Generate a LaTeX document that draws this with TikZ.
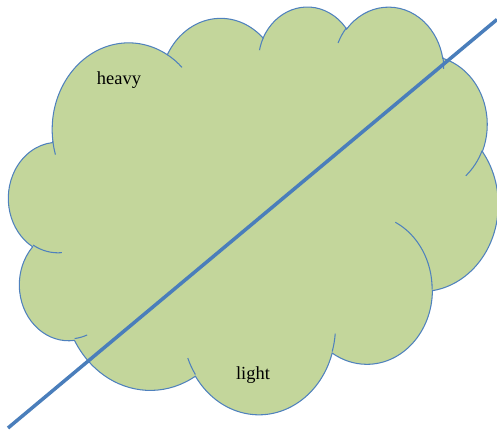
\documentclass[tikz,border=0pt]{standalone}
\usepackage{fontspec}
\setmainfont{Liberation Serif}
\definecolor{cloudfill}{HTML}{C3D69B}
\definecolor{cloudline}{HTML}{4F81BD}
\definecolor{splitline}{HTML}{4A7EBB}
\begin{document}
\begin{tikzpicture}[x=0.02cm,y=-0.02cm,font=\fontsize{10.5}{12}\selectfont]
  \tikzset{
    lobe/.style={draw=cloudline,line width=0.6pt,fill=cloudfill},
    crease/.style={draw=cloudline,line width=0.6pt},
    split/.style={draw=splitline,line width=2pt},
    lbl/.style={anchor=base,inner sep=0pt}
  }
  \useasboundingbox (0,0) rectangle (497,437);

  \begin{scope}[shift={(0.174cm,-0.113cm)},x=0.022654cm,y=-0.01888cm]
    \path[lobe] (39.00,143.70)
      arc[start angle=172.25,end angle=300.36,x radius=67.53,y radius=91.90]
      arc[start angle=-152.02,end angle=-45.43,x radius=53.33,y radius=72.67]
      arc[start angle=-153.48,end angle=-37.31,x radius=43.65,y radius=59.45]
      arc[start angle=-139.70,end angle=-10.21,x radius=48.57,y radius=65.95]
      arc[start angle=-74.77,end angle=23.21,x radius=53.33,y radius=72.73]
      arc[start angle=-37.53,end angle=81.86,x radius=67.75,y radius=92.20]
      arc[start angle=0.46,end angle=121.97,x radius=57.85,y radius=78.67]
      arc[start angle=16.85,end angle=146.23,x radius=67.52,y radius=92.15]
      arc[start angle=58.98,end angle=150.19,x radius=77.20,y radius=105.43]
      arc[start angle=83.31,end angle=223.10,x radius=43.60,y radius=59.18]
      arc[start angle=120.35,end angle=264.11,x radius=43.45,y radius=59.45]
      -- cycle;
    % creases inside the lobes
    \path[crease]
      (46.93,261.77) arc[start angle=85.55,end angle=120.36,x radius=43.45,y radius=59.45]
      (69.28,348.99) arc[start angle=68.24,end angle=83.31,x radius=43.60,y radius=59.18]
      (164.78,390.90) arc[start angle=146.23,end angle=158.48,x radius=67.52,y radius=92.15]
      (288.27,347.51) arc[start angle=4.74,end angle=16.85,x radius=67.52,y radius=92.15]
      (341.29,229.54) arc[start angle=-64.03,end angle=0.46,x radius=57.85,y radius=78.67]
      (417.98,153.54) arc[start angle=23.21,end angle=49.63,x radius=53.33,y radius=72.73]
      (383.24,54.26) arc[start angle=-10.21,end angle=0.82,x radius=48.57,y radius=65.95]
      (290.78,39.52) arc[start angle=-156.29,end angle=-139.70,x radius=48.57,y radius=65.95]
      (221.41,47.20) arc[start angle=-167.73,end angle=-153.48,x radius=43.65,y radius=59.45]
      (140.00,51.92) arc[start angle=-59.64,end angle=-45.74,x radius=67.53,y radius=91.90]
      (41.27,157.89) arc[start angle=163.19,end angle=172.25,x radius=67.53,y radius=91.90];
  \end{scope}

  \node[lbl] (heavy) at (119,84) {heavy};
  \node[lbl] (light) at (253,379) {light};

  \coordinate (lo) at (8,428);
  \coordinate (hi) at (497,19.5);
  \draw[split] (lo) -- (hi);
\end{tikzpicture}
\end{document}
